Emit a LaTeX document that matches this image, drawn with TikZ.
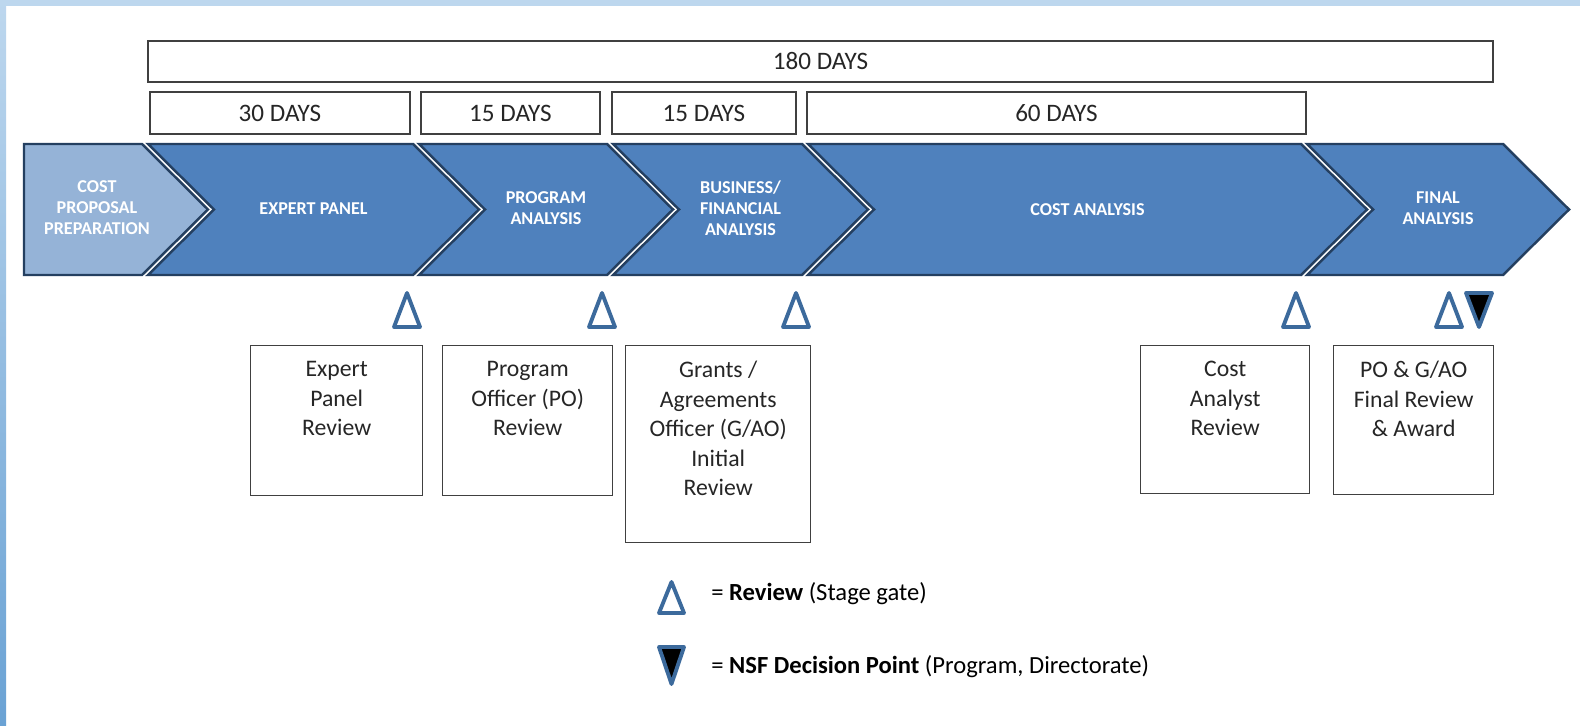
\documentclass[tikz,border=0pt]{standalone}
\usepackage{fontspec}
\setmainfont{Carlito}
\definecolor{chevblue}{HTML}{4F81BD}
\definecolor{chevlight}{HTML}{95B3D7}
\definecolor{chevedge}{HTML}{243F60}
\definecolor{gateblue}{HTML}{3C6A9C}
\definecolor{boxgrey}{HTML}{404040}
\definecolor{frametop}{HTML}{BDD7EE}
\definecolor{framebot}{HTML}{6AA2D4}
\tikzset{
  chev/.style={fill=chevblue, draw=chevedge, line width=1.4pt, line join=miter},
  chevtext/.style={text=white, font=\fontsize{10.3}{12}\selectfont\bfseries, align=center},
  daybox/.style={draw=boxgrey, line width=0.8pt, inner sep=0pt,
    font=\fontsize{14.3}{17}\selectfont, text=black!85},
  revbox/.style={draw=boxgrey, line width=0.8pt, inner sep=0pt},
  revtext/.style={font=\fontsize{13.5}{16.8}\selectfont, text=black!85,
    align=center, inner sep=0pt, anchor=north},
  gate/.style={draw=gateblue, line width=2.2pt, line join=round, fill=white},
  decision/.style={draw=gateblue, line width=2.2pt, line join=round, fill=black},
  legtext/.style={font=\fontsize{14}{16.8}\selectfont, anchor=base west, inner sep=0pt}
}
\begin{document}
\begin{tikzpicture}[x=0.2mm,y=-0.2mm]
\useasboundingbox (0,0) rectangle (1580,726);
\fill[white] (0,0) rectangle (1580,726);
\fill[frametop] (0,0) rectangle (1580,6);
\shade[top color=frametop, bottom color=framebot] (0,0) rectangle (6,726);

\node[daybox, minimum width=269mm, minimum height=8.2mm] (d180) at (820.5,61.5) {180 DAYS};
\foreach \nm/\xa/\xb/\lab in {d30/150/410/30, d15a/421/600/15, d15b/612/796/15, d60/807/1306/60} {
  \node[daybox, minimum width={(\xb-\xa)*0.2mm}, minimum height=8.4mm] (\nm) at ({(\xa+\xb)/2},113) {\lab{} DAYS};
}

\path[chev, fill=chevlight] (24,144) -- (142,144) -- (208,209.5) -- (142,275) -- (24,275) -- cycle;
\foreach \xa/\xb in {148/413, 419/607, 613/802, 808/1301, 1307/1503} {
  \path[chev] (\xa,144) -- (\xb,144) -- ++(66,65.5) -- (\xb,275) -- (\xa,275) -- ++(66,-65.5) -- cycle;
}

\node[chevtext] (cprep) at (97,208) {COST\\PROPOSAL\\PREPARATION};
\node[chevtext] (cexp) at (313.5,209) {EXPERT PANEL};
\node[chevtext] (cprog) at (546,208) {PROGRAM\\ANALYSIS};
\node[chevtext] (cbus) at (740.5,208) {BUSINESS/\\FINANCIAL\\ANALYSIS};
\node[chevtext] (ccost) at (1087.5,210) {COST ANALYSIS};
\node[chevtext] (cfin) at (1438,208) {FINAL\\ANALYSIS};

\foreach \c in {407,602,796,1296,1449} {
  \draw[gate] (\c,293) -- ({\c+13},327) -- ({\c-13},327) -- cycle;
}
\draw[decision] (1466,293) -- (1492,293) -- (1479,327) -- cycle;

\foreach \nm/\xa/\xb/\yb/\txt in {
    rexp/250/422/495/{Expert\\Panel\\Review},
    rprog/442/612/495/{Program\\Officer (PO)\\Review},
    rgao/625/810/542/{Grants /\\Agreements\\Officer (G/AO)\\Initial\\Review},
    rcost/1140/1309/493/{Cost\\Analyst\\Review},
    rfin/1333/1493/494/{PO \& G/AO\\Final Review\\\& Award}} {
  \node[revbox, minimum width={(\xb-\xa)*0.2mm}, minimum height={(\yb-345)*0.2mm}, anchor=north west] (\nm) at (\xa,345) {};
  \node[revtext] (\nm-t) at ([yshift=-3.2mm]\nm.north) {\txt};
}

\draw[gate] (671.5,582) -- (684,613) -- (659,613) -- cycle;
\draw[decision] (659,647) -- (684,647) -- (671.5,684) -- cycle;
\node[legtext] (lrev) at (711,600) {= \textbf{Review} (Stage gate)};
\node[legtext] (lnsf) at (711,673) {= \textbf{NSF Decision Point} (Program, Directorate)};
\end{tikzpicture}
\end{document}
